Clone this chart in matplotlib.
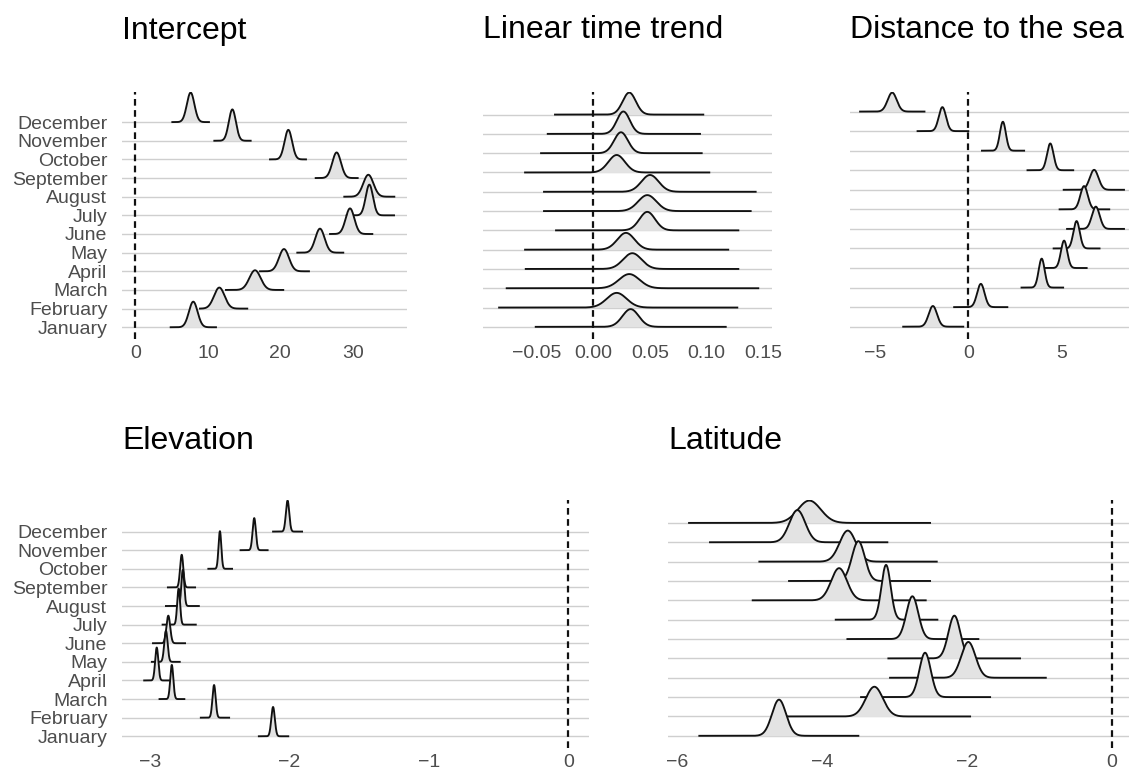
import numpy as np
import matplotlib.pyplot as plt

plt.rcParams['font.family'] = ['Liberation Sans', 'DejaVu Sans']

W, H = 1129, 769

months = ['January', 'February', 'March', 'April', 'May', 'June', 'July',
          'August', 'September', 'October', 'November', 'December']

# per month (Jan..Dec): location and spread of each posterior, and its sample range
intercept_mode = [7.98, 11.58, 16.51, 20.51, 25.48, 29.63, 32.30, 32.16, 27.78, 21.11, 13.38, 7.62]
intercept_sd = [0.60, 0.73, 0.78, 0.69, 0.64, 0.60, 0.50, 0.70, 0.60, 0.52, 0.49, 0.52]
intercept_lo = [4.86, 8.91, 12.50, 17.20, 22.35, 26.87, 29.17, 28.84, 24.89, 18.58, 10.89, 5.09]
intercept_hi = [11.12, 15.44, 20.41, 23.96, 28.70, 32.71, 35.71, 35.75, 30.69, 23.55, 15.91, 10.15]

trend_mode = [0.0329, 0.0206, 0.0317, 0.0344, 0.0288, 0.0476, 0.0476, 0.0500, 0.0206, 0.0244, 0.0265, 0.0317]
trend_sd = [0.0072, 0.0087, 0.0090, 0.0081, 0.0076, 0.0069, 0.0080, 0.0076, 0.0073, 0.0061, 0.0057, 0.0058]
trend_lo = [-0.0508, -0.0831, -0.0764, -0.0596, -0.0602, -0.0329, -0.0435, -0.0435, -0.0602, -0.0461, -0.0402, -0.0338]
trend_hi = [0.1168, 0.1270, 0.1455, 0.1279, 0.1190, 0.1279, 0.1388, 0.1432, 0.1023, 0.0956, 0.0941, 0.0970]

sea_mode = [-1.90, 0.67, 3.93, 5.13, 5.80, 6.83, 6.20, 6.74, 4.39, 1.85, -1.39, -4.08]
sea_sd = [0.224, 0.199, 0.160, 0.169, 0.169, 0.208, 0.199, 0.232, 0.173, 0.160, 0.193, 0.244]
sea_lo = [-3.49, -0.76, 2.85, 3.99, 4.57, 5.29, 4.89, 5.11, 3.17, 0.73, -2.72, -5.80]
sea_hi = [-0.27, 2.09, 5.08, 6.34, 7.03, 8.34, 7.55, 8.34, 5.62, 2.99, 0.0, -2.35]

elev_mode = [-2.117, -2.540, -2.843, -2.951, -2.885, -2.868, -2.794, -2.764, -2.772, -2.498, -2.252, -2.013]
elev_sd = [0.0127, 0.0114, 0.0109, 0.0113, 0.0120, 0.0135, 0.0103, 0.0103, 0.0114, 0.0099, 0.0116, 0.0120]
elev_lo = [-2.219, -2.635, -2.931, -3.041, -2.986, -2.978, -2.909, -2.885, -2.871, -2.581, -2.350, -2.117]
elev_hi = [-2.008, -2.432, -2.753, -2.863, -2.786, -2.748, -2.671, -2.649, -2.676, -2.411, -2.156, -1.909]

lat_mode = [-4.589, -3.274, -2.575, -1.978, -2.171, -2.750, -3.113, -3.761, -3.495, -3.641, -4.336, -4.171]
lat_sd = [0.097, 0.118, 0.079, 0.098, 0.082, 0.082, 0.064, 0.109, 0.088, 0.113, 0.109, 0.157]
lat_lo = [-5.688, -4.598, -3.458, -3.058, -3.081, -3.646, -3.807, -4.952, -4.451, -4.860, -5.541, -5.830]
lat_hi = [-3.495, -1.954, -1.678, -0.910, -1.265, -1.840, -2.405, -2.566, -2.506, -2.414, -3.095, -2.506]

FILL = '#e3e3e3'
GRID = '#cfcfcf'
TICK = '#4d4d4d'


def ridges(fig, box, title, mode, sd, lo, hi, peak, xlim, xticks, xticklabels, show_y):
    x0, y0, x1, y1 = box
    ax = fig.add_axes([x0 / W, 1 - y1 / H, (x1 - x0) / W, (y1 - y0) / H])

    curves = []
    for m, s, a, b in zip(mode, sd, lo, hi):
        x = np.linspace(a, b, 600)
        d = np.exp(-0.5 * ((x - m) / s) ** 2) / s
        curves.append((x, d))
    dmax = max(d.max() for _, d in curves)

    top = 0
    for i in range(len(curves) - 1, -1, -1):
        x, d = curves[i]
        h = i + d * peak / dmax
        z = 3 + (len(curves) - i)
        ax.fill_between(x, i, h, color=FILL, lw=0, zorder=z)
        ax.plot(x, h, color='#111111', lw=1.35, zorder=z + 0.5)
        top = max(top, h.max())

    ax.axvline(0, color='#111111', lw=1.6, dashes=(3, 2), zorder=50)

    ax.set_xlim(*xlim)
    ax.set_ylim(-0.63, top + 0.03)
    ax.set_yticks(range(len(months)))
    ax.set_yticklabels(months if show_y else [])
    ax.set_xticks(xticks)
    ax.set_xticklabels(xticklabels)
    ax.tick_params(length=0, labelsize=14, labelcolor=TICK)
    ax.tick_params(axis='y', pad=10.5)
    ax.tick_params(axis='x', pad=4)
    ax.grid(axis='y', color=GRID, lw=1.0)
    ax.grid(axis='x', visible=False)
    ax.set_axisbelow(True)
    for sp in ax.spines.values():
        sp.set_visible(False)

    base = 38.5 if y0 < 300 else 449
    fig.text(x0 / W, 1 - base / H, title, fontsize=23, color='black',
             ha='left', va='baseline')
    return ax


fig = plt.figure(figsize=(W / 100, H / 100), dpi=100)

ridges(fig, (122, 92, 407, 339), 'Intercept',
       intercept_mode, intercept_sd, intercept_lo, intercept_hi, 1.68,
       (-1.86, 37.5), [0, 10, 20, 30], ['0', '10', '20', '30'], True)

ridges(fig, (483, 92, 772, 339), 'Linear time trend',
       trend_mode, trend_sd, trend_lo, trend_hi, 1.16,
       (-0.0973, 0.1576), [-0.05, 0, 0.05, 0.10, 0.15],
       ['\u22120.05', '0.00', '0.05', '0.10', '0.15'], False)

ridges(fig, (850, 92, 1135, 339), 'Distance to the sea',
       sea_mode, sea_sd, sea_lo, sea_hi, 1.48,
       (-6.34, 8.93), [-5, 0, 5], ['\u22125', '0', '5'], False)

ridges(fig, (122, 500, 589, 748), 'Elevation',
       elev_mode, elev_sd, elev_lo, elev_hi, 2.02,
       (-3.20, 0.148), [-3, -2, -1, 0], ['\u22123', '\u22122', '\u22121', '0'], True)

ridges(fig, (668, 500, 1135, 748), 'Latitude',
       lat_mode, lat_sd, lat_lo, lat_hi, 2.83,
       (-6.12, 0.32), [-6, -4, -2, 0], ['\u22126', '\u22124', '\u22122', '0'], False)

fig.savefig('out.png', dpi=100)
